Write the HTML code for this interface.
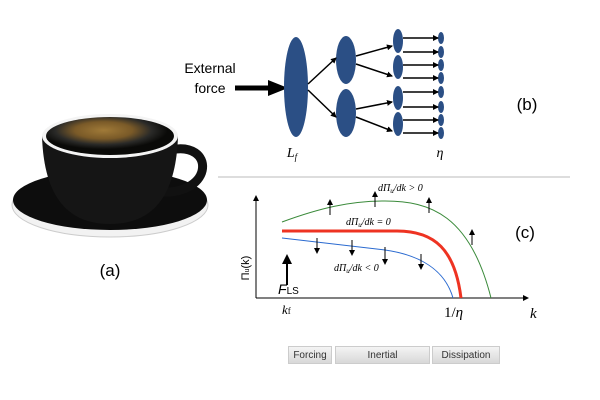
<!DOCTYPE html>
<html><head><style>
body{margin:0;background:#fff;width:600px;height:400px;overflow:hidden;font-family:"Liberation Sans",sans-serif}
.btn{position:absolute;top:346px;height:18px;border:1px solid #ccc;background:linear-gradient(#f4f4f4,#d8d8d8);font-size:10px;color:#333;text-align:center;line-height:18px;box-sizing:border-box}
</style></head><body>
<svg width="600" height="400" style="position:absolute;left:0;top:0" font-family="Liberation Sans, sans-serif">
<defs>
<marker id="s" markerWidth="6" markerHeight="6" refX="5" refY="3" orient="auto" markerUnits="userSpaceOnUse"><path d="M0,0L6,3L0,6z" fill="#000"/></marker>
<radialGradient id="cof" cx="0.45" cy="0.35"><stop offset="0" stop-color="#a07a38"/><stop offset="0.45" stop-color="#7a5a28"/><stop offset="0.75" stop-color="#2a2a28"/><stop offset="1" stop-color="#0a0a08"/></radialGradient>
</defs>
<!-- cup -->
<ellipse cx="110" cy="205" rx="98" ry="32" fill="#f2f2f2" stroke="#ccc"/>
<ellipse cx="110" cy="200" rx="97" ry="30" fill="#0d0d0d"/>
<path d="M170,150 C215,140 215,195 160,192" stroke="#111" stroke-width="9" fill="none"/>
<path d="M42,136 C44,200 70,224 110,224 C150,224 176,200 178,136 z" fill="#151515"/>
<ellipse cx="110" cy="136" rx="68" ry="22" fill="#f4f4f4"/>
<ellipse cx="110" cy="136" rx="64" ry="19" fill="url(#cof)"/>
<text x="110" y="276" font-size="17" text-anchor="middle">(a)</text>
<!-- (b) -->
<text x="210" y="73" font-size="14" text-anchor="middle">External</text>
<text x="210" y="93" font-size="14" text-anchor="middle">force</text>
<line x1="235" y1="88" x2="272" y2="88" stroke="#000" stroke-width="5"/>
<path d="M268,80L288,88L268,96z" fill="#000"/>
<g fill="#2b4f85">
<ellipse cx="296" cy="87" rx="12" ry="50"/>
<ellipse cx="346" cy="60" rx="10" ry="24"/>
<ellipse cx="346" cy="113" rx="10" ry="24"/>
<ellipse cx="398" cy="41" rx="5" ry="12"/><ellipse cx="398" cy="67" rx="5" ry="12"/>
<ellipse cx="398" cy="98" rx="5" ry="12"/><ellipse cx="398" cy="124" rx="5" ry="12"/>
<ellipse cx="441" cy="38" rx="3" ry="6"/><ellipse cx="441" cy="52" rx="3" ry="6"/>
<ellipse cx="441" cy="65" rx="3" ry="6"/><ellipse cx="441" cy="78" rx="3" ry="6"/>
<ellipse cx="441" cy="92" rx="3" ry="6"/><ellipse cx="441" cy="107" rx="3" ry="6"/>
<ellipse cx="441" cy="120" rx="3" ry="6"/><ellipse cx="441" cy="133" rx="3" ry="6"/>
</g>
<g stroke="#000" stroke-width="1.5" marker-end="url(#s)">
<line x1="308" y1="84" x2="336" y2="58"/><line x1="308" y1="90" x2="336" y2="117"/>
<line x1="356" y1="56" x2="392" y2="46"/><line x1="356" y1="64" x2="392" y2="76"/>
<line x1="356" y1="109" x2="392" y2="102"/><line x1="356" y1="117" x2="392" y2="131"/>
<line x1="403" y1="38" x2="438" y2="38"/><line x1="403" y1="52" x2="438" y2="52"/>
<line x1="403" y1="65" x2="438" y2="65"/><line x1="403" y1="78" x2="438" y2="78"/>
<line x1="403" y1="92" x2="438" y2="92"/><line x1="403" y1="107" x2="438" y2="107"/>
<line x1="403" y1="120" x2="438" y2="120"/><line x1="403" y1="133" x2="438" y2="133"/>
</g>
<text x="292" y="157" font-size="14" font-style="italic" font-family="Liberation Serif,serif" text-anchor="middle">L<tspan font-size="9" dy="3">f</tspan></text>
<text x="440" y="157" font-size="14" font-style="italic" font-family="Liberation Serif,serif" text-anchor="middle">η</text>
<text x="527" y="110" font-size="17" text-anchor="middle">(b)</text>
<line x1="218" y1="177" x2="570" y2="177" stroke="#bbb"/>
<!-- (c) -->
<line x1="256" y1="298" x2="256" y2="196" stroke="#000" marker-end="url(#s)"/>
<line x1="256" y1="298" x2="528" y2="298" stroke="#000" marker-end="url(#s)"/>
<path d="M282,222 C320,208 350,201 385,201 C430,201 470,215 491,298" stroke="#3a8a3a" fill="none"/>
<path d="M282,231 L397,231 C435,231 455,250 461,298" stroke="#ee3322" stroke-width="3" fill="none"/>
<path d="M282,238 L385,250 C420,255 445,270 453,298" stroke="#2a6ad0" fill="none"/>
<g stroke="#000" marker-end="url(#s)">
<line x1="330" y1="215" x2="330" y2="200"/><line x1="375" y1="207" x2="375" y2="192"/>
<line x1="429" y1="213" x2="429" y2="198"/><line x1="472" y1="245" x2="472" y2="230"/>
<line x1="317" y1="238" x2="317" y2="253"/><line x1="352" y1="240" x2="352" y2="255"/>
<line x1="385" y1="247" x2="385" y2="264"/><line x1="421" y1="254" x2="421" y2="269"/>
</g>
<line x1="287" y1="285" x2="287" y2="262" stroke="#000" stroke-width="2"/>
<path d="M282,264L287,254L292,264z" fill="#000"/>
<g font-family="Liberation Serif,serif" font-style="italic" font-size="10">
<text x="378" y="191">dΠ<tspan font-size="7" dy="2">u</tspan><tspan dy="-2">/dk &gt; 0</tspan></text>
<text x="346" y="225">dΠ<tspan font-size="7" dy="2">u</tspan><tspan dy="-2">/dk = 0</tspan></text>
<text x="334" y="271">dΠ<tspan font-size="7" dy="2">u</tspan><tspan dy="-2">/dk &lt; 0</tspan></text>
</g>
<text x="278" y="294" font-size="14" font-style="italic">F<tspan font-style="normal" font-size="10">LS</tspan></text>
<text x="282" y="314" font-size="13" font-style="italic" font-family="Liberation Serif,serif">k<tspan font-size="9" font-style="normal">f</tspan></text>
<text x="444" y="317" font-size="15" font-family="Liberation Serif,serif">1/<tspan font-style="italic">η</tspan></text>
<text x="530" y="318" font-size="15" font-style="italic" font-family="Liberation Serif,serif">k</text>
<text x="525" y="238" font-size="17" text-anchor="middle">(c)</text>
<text transform="translate(249,268) rotate(-90)" font-size="11" text-anchor="middle">Π<tspan font-size="7">u</tspan>(k)</text>
</svg>
<div class="btn" style="left:288px;width:44px">Forcing</div>
<div class="btn" style="left:335px;width:95px">Inertial</div>
<div class="btn" style="left:432px;width:68px">Dissipation</div>
</body></html>
